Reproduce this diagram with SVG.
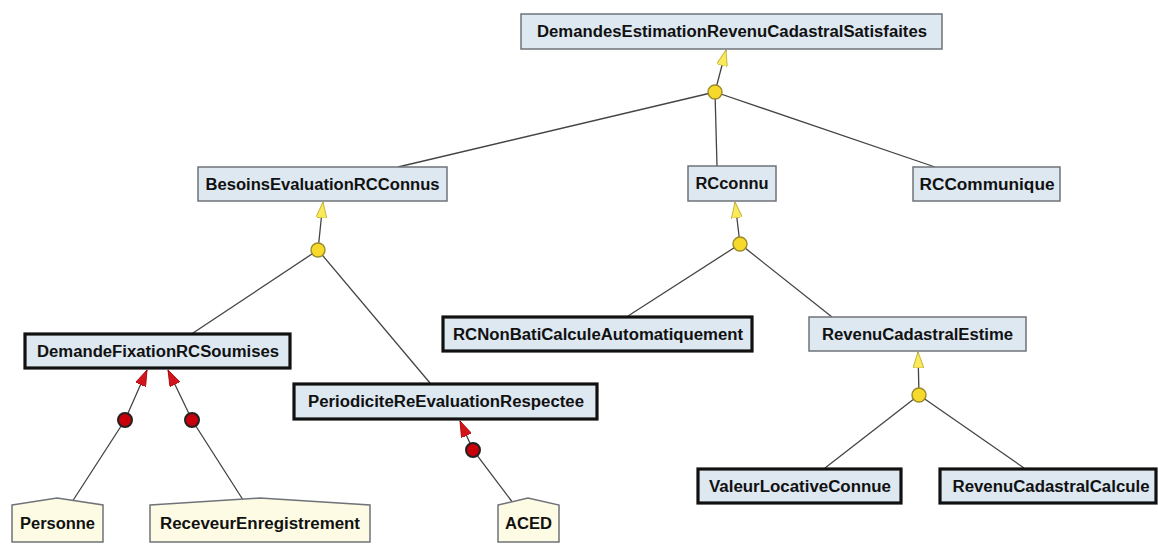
<svg xmlns="http://www.w3.org/2000/svg" width="1158" height="544" viewBox="0 0 1158 544">
  <style>
    .goal { fill: #dde8f1; stroke: #6f7378; stroke-width: 1.5; }
    .leaf { fill: #dde8f1; stroke: #111; stroke-width: 3.2; }
    .agent { fill: #fdfbe3; stroke: #6f7378; stroke-width: 1.5; }
    .lbl { font-family: "Liberation Sans", Arial, sans-serif; font-weight: bold; font-size: 16px; fill: #111; text-anchor: middle; dominant-baseline: central; }
    .link { stroke: #444; stroke-width: 1.3; fill: none; }
    .and { fill: #f7d92c; stroke: #9a8a2a; stroke-width: 1.4; }
    .resp { fill: #c8000a; stroke: #222; stroke-width: 2; }
  </style>
  <defs>
    <!-- arrowheads point along +x; used at line starts with auto-start-reverse -->
    <marker id="refine" viewBox="0 0 16 11" refX="16" refY="5.5" markerWidth="16" markerHeight="11" markerUnits="userSpaceOnUse" orient="auto-start-reverse">
      <path d="M0 0 L16 5.5 L0 11 Z" fill="#f8ea5a" stroke="#c9b63a" stroke-width="1"/>
    </marker>
    <marker id="assign" viewBox="0 0 16 11" refX="16" refY="5.5" markerWidth="16" markerHeight="11" markerUnits="userSpaceOnUse" orient="auto-start-reverse">
      <path d="M0 0 L16 5.5 L0 11 Z" fill="#d4141c" stroke="#a00" stroke-width="0.8"/>
    </marker>
  </defs>
  <rect width="1158" height="544" fill="#ffffff"/>

  <!-- connectors -->
  <g id="connectors">
    <!-- refinement of the root goal -->
    <line class="link" x1="726" y1="50" x2="715" y2="92" marker-start="url(#refine)"/>
    <line class="link" x1="715" y1="92" x2="398" y2="167"/>
    <line class="link" x1="715" y1="92" x2="717" y2="166"/>
    <line class="link" x1="715" y1="92" x2="935" y2="167"/>
    <!-- refinement of BesoinsEvaluationRCConnus -->
    <line class="link" x1="323" y1="202" x2="318" y2="250" marker-start="url(#refine)"/>
    <line class="link" x1="318" y1="250" x2="190" y2="335"/>
    <line class="link" x1="318" y1="250" x2="430" y2="383"/>
    <!-- refinement of RCconnu -->
    <line class="link" x1="735" y1="202" x2="740" y2="244" marker-start="url(#refine)"/>
    <line class="link" x1="740" y1="244" x2="628" y2="316"/>
    <line class="link" x1="740" y1="244" x2="832" y2="317"/>
    <!-- refinement of RevenuCadastralEstime -->
    <line class="link" x1="918" y1="352" x2="919" y2="395" marker-start="url(#refine)"/>
    <line class="link" x1="919" y1="395" x2="825" y2="468"/>
    <line class="link" x1="919" y1="395" x2="1024" y2="468"/>
    <!-- responsibility links -->
    <polyline class="link" points="147,370 125,420 72,502" marker-start="url(#assign)"/>
    <polyline class="link" points="168,370 192,420 245,503" marker-start="url(#assign)"/>
    <polyline class="link" points="460,421 473,450 513,503" marker-start="url(#assign)"/>
    <!-- junction markers -->
    <circle class="and" cx="715" cy="92" r="7"/>
    <circle class="and" cx="318" cy="250" r="7"/>
    <circle class="and" cx="740" cy="244" r="7"/>
    <circle class="and" cx="919" cy="395" r="7"/>
    <circle class="resp" cx="125" cy="420" r="7"/>
    <circle class="resp" cx="192" cy="420" r="7"/>
    <circle class="resp" cx="473" cy="450" r="7"/>
  </g>

  <!-- goals -->
  <g id="DemandesEstimationRevenuCadastralSatisfaites">
    <rect class="goal" x="521" y="14" width="421" height="35"/>
    <text class="lbl" x="732" y="31.5" textLength="390" lengthAdjust="spacingAndGlyphs">DemandesEstimationRevenuCadastralSatisfaites</text>
  </g>
  <g id="BesoinsEvaluationRCConnus">
    <rect class="goal" x="198" y="167" width="249" height="34"/>
    <text class="lbl" x="322.5" y="184" textLength="234" lengthAdjust="spacingAndGlyphs">BesoinsEvaluationRCConnus</text>
  </g>
  <g id="RCconnu">
    <rect class="goal" x="688" y="166" width="88" height="35"/>
    <text class="lbl" x="732" y="183.5" textLength="73" lengthAdjust="spacingAndGlyphs">RCconnu</text>
  </g>
  <g id="RCCommunique">
    <rect class="goal" x="913" y="167" width="147" height="34"/>
    <text class="lbl" x="987" y="184" textLength="135" lengthAdjust="spacingAndGlyphs">RCCommunique</text>
  </g>
  <g id="DemandeFixationRCSoumises">
    <rect class="leaf" x="25" y="334" width="265" height="34"/>
    <text class="lbl" x="158" y="351" textLength="242" lengthAdjust="spacingAndGlyphs">DemandeFixationRCSoumises</text>
  </g>
  <g id="PeriodiciteReEvaluationRespectee">
    <rect class="leaf" x="294" y="384" width="303" height="35"/>
    <text class="lbl" x="446" y="401.5" textLength="276" lengthAdjust="spacingAndGlyphs">PeriodiciteReEvaluationRespectee</text>
  </g>
  <g id="RCNonBatiCalculeAutomatiquement">
    <rect class="leaf" x="443" y="317" width="309" height="34"/>
    <text class="lbl" x="598" y="334" textLength="290" lengthAdjust="spacingAndGlyphs">RCNonBatiCalculeAutomatiquement</text>
  </g>
  <g id="RevenuCadastralEstime">
    <rect class="goal" x="809" y="317" width="217" height="34"/>
    <text class="lbl" x="917.5" y="334" textLength="191" lengthAdjust="spacingAndGlyphs">RevenuCadastralEstime</text>
  </g>
  <g id="ValeurLocativeConnue">
    <rect class="leaf" x="698" y="469" width="203" height="34"/>
    <text class="lbl" x="800" y="486" textLength="182" lengthAdjust="spacingAndGlyphs">ValeurLocativeConnue</text>
  </g>
  <g id="RevenuCadastralCalcule">
    <rect class="leaf" x="940" y="469" width="216" height="34"/>
    <text class="lbl" x="1051" y="486" textLength="197" lengthAdjust="spacingAndGlyphs">RevenuCadastralCalcule</text>
  </g>

  <!-- agents -->
  <g id="Personne">
    <path class="agent" d="M12 505 L57 498 L103 505 L103 542 L12 542 Z"/>
    <text class="lbl" x="57.5" y="523" textLength="75" lengthAdjust="spacingAndGlyphs">Personne</text>
  </g>
  <g id="ReceveurEnregistrement">
    <path class="agent" d="M150 505 L260 498 L370 505 L370 542 L150 542 Z"/>
    <text class="lbl" x="260" y="523" textLength="200" lengthAdjust="spacingAndGlyphs">ReceveurEnregistrement</text>
  </g>
  <g id="ACED">
    <path class="agent" d="M498 505 L528 498 L559 505 L559 542 L498 542 Z"/>
    <text class="lbl" x="528.5" y="523" textLength="47" lengthAdjust="spacingAndGlyphs">ACED</text>
  </g>
</svg>
